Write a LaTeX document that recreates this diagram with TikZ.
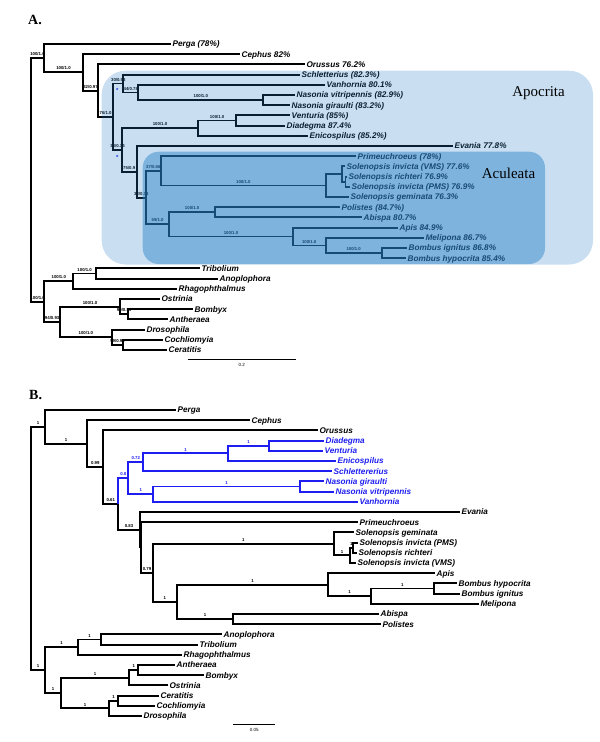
\documentclass[tikz,border=0pt]{standalone}
\usepackage{fontspec}
\setmainfont{Liberation Serif}
\setsansfont{Liberation Sans}
\usepackage{tikz}
\definecolor{apoblue}{RGB}{39,127,199}
\definecolor{bblue}{RGB}{30,30,240}

\begin{document}
\begin{tikzpicture}[x=1pt,y=-1pt,
	br/.style={line width=1.9pt},
	bbr/.style={br,draw=bblue},
	taxon/.style={anchor=west,inner sep=1.4pt,text height=5.8pt,text depth=0pt,font=\sffamily\bfseries\itshape\fontsize{8.2}{9}\selectfont},
	btaxon/.style={taxon,text=bblue},
	supp/.style={above,inner sep=1.4pt,font=\sffamily\bfseries\fontsize{4.3}{5}\selectfont},
	bsupp/.style={supp,text=bblue},
	head/.style={anchor=west,inner sep=0pt,font=\rmfamily\bfseries\fontsize{14}{14}\selectfont},
	clade/.style={inner sep=0pt,font=\rmfamily\fontsize{15}{15}\selectfont},
	scl/.style={inner sep=0pt,font=\sffamily\fontsize{4.5}{5}\selectfont}]
	\useasboundingbox (0,0) rectangle (600,742);

	\node[head] (hA) at (28,20) {A.};
	\node[head] (hB) at (29,395) {B.};

	%TREE A: TAXA
	\node[taxon] (perga) at (171,44) {Perga (78\%)};
	\node[taxon] (cephus) at (240,54.2) {Cephus 82\%};
	\node[taxon] (orussus) at (305,64.4) {Orussus 76.2\%};
	\node[taxon] (schlet) at (300,74.6) {Schletterius (82.3\%)};
	\node[taxon] (vanhorn) at (325,84.8) {Vanhornia 80.1\%};
	\node[taxon] (nvitri) at (295,95) {Nasonia vitripennis (82.9\%)};
	\node[taxon] (ngirau) at (290,105.2) {Nasonia giraulti (83.2\%)};
	\node[taxon] (ventur) at (290,115.4) {Venturia (85\%)};
	\node[taxon] (diadeg) at (285,125.6) {Diadegma 87.4\%};
	\node[taxon] (enicos) at (308,135.8) {Enicospilus (85.2\%)};
	\node[taxon] (evania) at (453,146) {Evania 77.8\%};
	\node[taxon] (primeu) at (356,156.2) {Primeuchroeus (78\%)};
	\node[taxon] (sivms) at (345,166.4) {Solenopsis invicta (VMS) 77.6\%};
	\node[taxon] (srich) at (347,176.6) {Solenopsis richteri 76.9\%};
	\node[taxon] (sipms) at (350,186.8) {Solenopsis invicta (PMS) 76.9\%};
	\node[taxon] (sgemi) at (349,197) {Solenopsis geminata 76.3\%};
	\node[taxon] (polist) at (340,207.2) {Polistes (84.7\%)};
	\node[taxon] (abispa) at (362,217.4) {Abispa 80.7\%};
	\node[taxon] (apis) at (398,227.6) {Apis 84.9\%};
	\node[taxon] (melip) at (424,237.8) {Melipona 86.7\%};
	\node[taxon] (bignit) at (407,248) {Bombus ignitus 86.8\%};
	\node[taxon] (bhypo) at (406,258.2) {Bombus hypocrita 85.4\%};
	\node[taxon] (tribol) at (200,268.4) {Tribolium};
	\node[taxon] (anopl) at (218,278.6) {Anoplophora};
	\node[taxon] (rhago) at (177,288.8) {Rhagophthalmus};
	\node[taxon] (ostrin) at (160,299) {Ostrinia};
	\node[taxon] (bombyx) at (193,309.2) {Bombyx};
	\node[taxon] (anther) at (168,319.4) {Antheraea};
	\node[taxon] (droso) at (145,329.6) {Drosophila};
	\node[taxon] (cochl) at (163,339.8) {Cochliomyia};
	\node[taxon] (cerat) at (167,350) {Ceratitis};

	%TREE A: INNER NODES
	\coordinate (rootA) at (31,179.9);
	\coordinate (per) at (44,58.2);
	\coordinate (cep) at (83,72.4);
	\coordinate (oru) at (98,90.55);
	\coordinate (apo) at (113.3,116.7);
	\coordinate (sch) at (123.3,83.5);
	\coordinate (vah) at (138.3,92.45);
	\coordinate (nas) at (263.3,100.1);
	\coordinate (ian) at (121.7,149.95);
	\coordinate (ich) at (198.3,128.15);
	\coordinate (ven) at (236,120.5);
	\coordinate (eva) at (136.7,171.8);
	\coordinate (acu) at (146,197.6);
	\coordinate (pri) at (160.7,170.85);
	\coordinate (sol) at (326,185.5);
	\coordinate (sob) at (342,174.05);
	\coordinate (soa) at (345.5,181.7);
	\coordinate (low) at (169.3,224.4);
	\coordinate (ves) at (215,212.3);
	\coordinate (api) at (292.7,236.5);
	\coordinate (mel) at (325.7,245.45);
	\coordinate (bom) at (381.7,253.1);
	\coordinate (out) at (44.3,301.55);
	\coordinate (col) at (73.3,281.15);
	\coordinate (tri) at (96,273.5);
	\coordinate (lep) at (60,321.95);
	\coordinate (ost) at (120,306.65);
	\coordinate (ant) at (128.3,314.3);
	\coordinate (dip) at (111.7,337.25);
	\coordinate (cer) at (123.3,344.9);

	%TREE A: BRANCHES
	\draw[br] (rootA) |- node[supp,pos=.75]{100/1.0} (per) (rootA) |- node[supp,pos=.75]{100/1.0} (out);
	\draw[br] (per) |- (perga.west) (per) |- node[supp,pos=.75]{100/1.0} (cep);
	\draw[br] (cep) |- (cephus.west) (cep) |- node[supp,pos=.75]{32/0.97} (oru);
	\draw[br] (oru) |- (orussus.west) (oru) |- node[supp,pos=.75]{76/1.0} (apo);
	\draw[br] (apo) |- node[supp,pos=.75]{30/0.58} (sch) (apo) |- node[supp,pos=.75]{38/0.34} (ian);
	\draw[br] (sch) |- (schlet.west) (sch) |- node[supp,pos=.75]{44/0.78} (vah);
	\draw[br] (vah) |- (vanhorn.west) (vah) |- node[supp,pos=.75]{100/1.0} (nas);
	\draw[br] (nas) |- (nvitri.west) (nas) |- (ngirau.west);
	\draw[br] (ian) |- node[supp,pos=.75]{100/1.0} (ich) (ian) |- node[supp,pos=.75]{75/0.9} (eva);
	\draw[br] (ich) |- node[supp,pos=.75]{100/1.0} (ven) (ich) |- (enicos.west);
	\draw[br] (ven) |- (ventur.west) (ven) |- (diadeg.west);
	\draw[br] (eva) |- (evania.west) (eva) |- node[supp,pos=.75]{32/0.33} (acu);
	\draw[br] (acu) |- node[supp,pos=.75]{37/0.56} (pri) (acu) |- node[supp,pos=.75]{59/1.0} (low);
	\draw[br] (pri) |- (primeu.west) (pri) |- node[supp,pos=.75]{100/1.0} (sol);
	\draw[br] (sol) |- (sob) (sol) |- (sgemi.west);
	\draw[br] (sob) |- (sivms.west) (sob) |- (soa);
	\draw[br] (soa) |- (srich.west) (soa) |- (sipms.west);
	\draw[br] (low) |- node[supp,pos=.75]{100/1.0} (ves) (low) |- node[supp,pos=.75]{100/1.0} (api);
	\draw[br] (ves) |- (polist.west) (ves) |- (abispa.west);
	\draw[br] (api) |- (apis.west) (api) |- node[supp,pos=.75]{100/1.0} (mel);
	\draw[br] (mel) |- (melip.west) (mel) |- node[supp,pos=.75]{100/1.0} (bom);
	\draw[br] (bom) |- (bignit.west) (bom) |- (bhypo.west);
	\draw[br] (out) |- node[supp,pos=.75]{100/1.0} (col) (out) |- node[supp,pos=.75]{94/0.93} (lep);
	\draw[br] (col) |- node[supp,pos=.75]{100/1.0} (tri) (col) |- (rhago.west);
	\draw[br] (tri) |- (tribol.west) (tri) |- (anopl.west);
	\draw[br] (lep) |- node[supp,pos=.75]{100/1.0} (ost) (lep) |- node[supp,pos=.75]{100/1.0} (dip);
	\draw[br] (ost) |- (ostrin.west) (ost) |- node[supp,pos=.75]{99/0.99} (ant);
	\draw[br] (ant) |- (bombyx.west) (ant) |- (anther.west);
	\draw[br] (dip) |- (droso.west) (dip) |- node[supp,pos=.75]{99/0.99} (cer);
	\draw[br] (cer) |- (cochl.west) (cer) |- (cerat.west);

	\node[inner sep=0pt,text=bblue,font=\sffamily\bfseries\fontsize{6}{6}\selectfont] (st1) at (117.3,90.6) {*};
	\node[inner sep=0pt,text=bblue,font=\sffamily\bfseries\fontsize{6}{6}\selectfont] (st2) at (117.3,157.3) {*};

	%CLADE BOXES
	\fill[apoblue,fill opacity=.25,rounded corners=24pt] (101.7,70.7) rectangle (593,264.5);
	\fill[apoblue,fill opacity=.46,rounded corners=16pt] (142.7,151.7) rectangle (545,264);
	\node[clade] (apoc) at (538.5,93) {Apocrita};
	\node[clade] (acul) at (508.5,173) {Aculeata};

	%SCALE A
	\coordinate (sa0) at (187.7,359.3);
	\coordinate (sa1) at (296,359.3);
	\draw[line width=1pt] (sa0) -- node[scl,below=4pt]{0.2} (sa1);

	%TREE B: TAXA
	\node[taxon] (bperga) at (176,410) {Perga};
	\node[taxon] (bcephus) at (250,420.2) {Cephus};
	\node[taxon] (borussus) at (318,430.4) {Orussus};
	\node[btaxon] (bdiadeg) at (324,440.6) {Diadegma};
	\node[btaxon] (bventur) at (323,450.8) {Venturia};
	\node[btaxon] (benicos) at (336,461) {Enicospilus};
	\node[btaxon] (bschlet) at (332,471.2) {Schlettererius};
	\node[btaxon] (bngirau) at (324,481.4) {Nasonia giraulti};
	\node[btaxon] (bnvitri) at (334,491.6) {Nasonia vitripennis};
	\node[btaxon] (bvanhorn) at (358,501.8) {Vanhornia};
	\node[taxon] (bevania) at (460,512) {Evania};
	\node[taxon] (bprimeu) at (358,522.2) {Primeuchroeus};
	\node[taxon] (bsgemi) at (354,532.4) {Solenopsis geminata};
	\node[taxon] (bsipms) at (358,542.6) {Solenopsis invicta (PMS)};
	\node[taxon] (bsrich) at (357,552.8) {Solenopsis richteri};
	\node[taxon] (bsivms) at (356,563) {Solenopsis invicta (VMS)};
	\node[taxon] (bapis) at (435,573.2) {Apis};
	\node[taxon] (bbhypo) at (457,583.4) {Bombus hypocrita};
	\node[taxon] (bbignit) at (460,593.6) {Bombus ignitus};
	\node[taxon] (bmelip) at (479,603.8) {Melipona};
	\node[taxon] (babispa) at (379,614) {Abispa};
	\node[taxon] (bpolist) at (381,624.2) {Polistes};
	\node[taxon] (banopl) at (222,634.4) {Anoplophora};
	\node[taxon] (btribol) at (198,644.6) {Tribolium};
	\node[taxon] (brhago) at (182,654.8) {Rhagophthalmus};
	\node[taxon] (banther) at (175,665) {Antheraea};
	\node[taxon] (bbombyx) at (204,675.2) {Bombyx};
	\node[taxon] (bostrin) at (168,685.4) {Ostrinia};
	\node[taxon] (bcerat) at (159,695.6) {Ceratitis};
	\node[taxon] (bcochl) at (155,705.8) {Cochliomyia};
	\node[taxon] (bdroso) at (142,716) {Drosophila};

	%TREE B: INNER NODES
	\coordinate (rootB) at (31,548.5);
	\coordinate (bper) at (45,426.85);
	\coordinate (bcep) at (87.3,443.7);
	\coordinate (boru) at (103.3,467.2);
	\coordinate (bhym) at (118.3,504);
	\coordinate (bapo) at (128.3,478.2);
	\coordinate (bipa) at (143.3,462.3);
	\coordinate (bich) at (227.7,453.35);
	\coordinate (bdia) at (269.3,445.7);
	\coordinate (bvah) at (153.3,494.15);
	\coordinate (bnas) at (300,486.5);
	\coordinate (beva) at (139.7,529.8);
	\coordinate (bpri) at (141.3,547.5);
	\coordinate (bacu) at (152.7,572.9);
	\coordinate (bsol) at (334,543.9);
	\coordinate (ssb) at (350,555.35);
	\coordinate (ssa) at (352.7,547.7);
	\coordinate (blow) at (176.7,601.9);
	\coordinate (bapi) at (328.3,584.7);
	\coordinate (bmel) at (370.7,596.2);
	\coordinate (bbom) at (434,588.5);
	\coordinate (bves) at (233.3,619.1);
	\coordinate (bout) at (45,670.1);
	\coordinate (bcol) at (78.3,647.15);
	\coordinate (btri) at (100.7,639.5);
	\coordinate (blep) at (61,693.05);
	\coordinate (bost) at (129.3,677.75);
	\coordinate (bant) at (138.3,670.1);
	\coordinate (bdip) at (109.3,708.35);
	\coordinate (bcer) at (118,700.7);

	%TREE B: BRANCHES
	\draw[br] (rootB) |- node[supp,pos=.75]{1} (bper) (rootB) |- node[supp,pos=.75]{1} (bout);
	\draw[br] (bper) |- (bperga.west) (bper) |- node[supp,pos=.75]{1} (bcep);
	\draw[br] (bcep) |- (bcephus.west) (bcep) |- node[supp,pos=.75]{0.99} (boru);
	\draw[br] (boru) |- (borussus.west) (boru) |- node[supp,pos=.75]{0.61} (bhym);
	\draw[bbr] (bhym) |- node[bsupp,pos=.75]{0.8} (bapo);
	\draw[br] (bhym) |- node[supp,pos=.75]{0.83} (beva);
	\draw[bbr] (bapo) |- node[bsupp,pos=.75]{0.72} (bipa) (bapo) |- node[bsupp,pos=.75]{1} (bvah);
	\draw[bbr] (bipa) |- node[bsupp,pos=.75]{1} (bich) (bipa) |- (bschlet.west);
	\draw[bbr] (bich) |- node[bsupp,pos=.75]{1} (bdia) (bich) |- (benicos.west);
	\draw[bbr] (bdia) |- (bdiadeg.west) (bdia) |- (bventur.west);
	\draw[bbr] (bvah) |- node[bsupp,pos=.75]{1} (bnas) (bvah) |- (bvanhorn.west);
	\draw[bbr] (bnas) |- (bngirau.west) (bnas) |- (bnvitri.west);
	\draw[br] (beva) |- (bevania.west) (beva) |- (bpri);
	\draw[br] (bpri) |- (bprimeu.west) (bpri) |- node[supp,pos=.75]{0.79} (bacu);
	\draw[br] (bacu) |- node[supp,pos=.75]{1} (bsol) (bacu) |- node[supp,pos=.75]{1} (blow);
	\draw[br] (bsol) |- (bsgemi.west) (bsol) |- node[supp,pos=.75]{1} (ssb);
	\draw[br] (ssb) |- node[supp,pos=.75]{1} (ssa) (ssb) |- (bsivms.west);
	\draw[br] (ssa) |- (bsipms.west) (ssa) |- (bsrich.west);
	\draw[br] (blow) |- node[supp,pos=.75]{1} (bapi) (blow) |- node[supp,pos=.75]{1} (bves);
	\draw[br] (bapi) |- (bapis.west) (bapi) |- node[supp,pos=.75]{1} (bmel);
	\draw[br] (bmel) |- node[supp,pos=.75]{1} (bbom) (bmel) |- (bmelip.west);
	\draw[br] (bbom) |- (bbhypo.west) (bbom) |- (bbignit.west);
	\draw[br] (bves) |- (babispa.west) (bves) |- (bpolist.west);
	\draw[br] (bout) |- node[supp,pos=.75]{1} (bcol) (bout) |- node[supp,pos=.75]{1} (blep);
	\draw[br] (bcol) |- node[supp,pos=.75]{1} (btri) (bcol) |- (brhago.west);
	\draw[br] (btri) |- (banopl.west) (btri) |- (btribol.west);
	\draw[br] (blep) |- node[supp,pos=.75]{1} (bost) (blep) |- node[supp,pos=.75]{1} (bdip);
	\draw[br] (bost) |- node[supp,pos=.75]{1} (bant) (bost) |- (bostrin.west);
	\draw[br] (bant) |- (banther.west) (bant) |- (bbombyx.west);
	\draw[br] (bdip) |- node[supp,pos=.75]{1} (bcer) (bdip) |- (bdroso.west);
	\draw[br] (bcer) |- (bcerat.west) (bcer) |- (bcochl.west);

	%SCALE B
	\coordinate (sb0) at (233.3,724);
	\coordinate (sb1) at (275,724);
	\draw[line width=1pt] (sb0) -- node[scl,below=4pt]{0.05} (sb1);
\end{tikzpicture}
\end{document}
